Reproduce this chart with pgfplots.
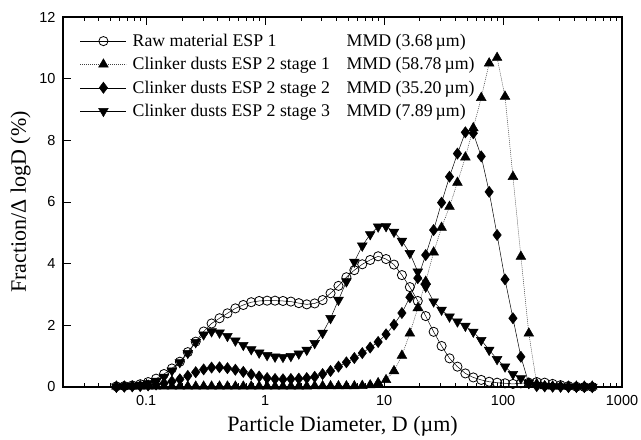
\documentclass[border=0pt]{standalone}
\usepackage{fontspec}
\setmainfont{Liberation Serif}
\newfontfamily\sansf{Liberation Sans}
\usepackage{pgfplots}
\pgfplotsset{compat=1.18}
\usepackage{pgfplotstable}

% particle size distributions, Fraction/dlogD (%)
\pgfplotstableread{
x raw s1 s2 s3
0.056234 0.02 0.02 0.00 0.01
0.065563 0.03 0.02 0.01 0.02
0.076443 0.05 0.02 0.02 0.04
0.089125 0.09 0.02 0.03 0.07
0.10391 0.16 0.02 0.05 0.12
0.12115 0.27 0.02 0.08 0.20
0.14125 0.42 0.02 0.12 0.33
0.16468 0.60 0.02 0.18 0.53
0.19201 0.82 0.02 0.25 0.80
0.22387 1.13 0.02 0.36 1.10
0.26102 1.47 0.02 0.48 1.45
0.30433 1.80 0.02 0.57 1.70
0.35481 2.06 0.02 0.63 1.80
0.41370 2.23 0.02 0.64 1.76
0.48234 2.39 0.02 0.61 1.65
0.56234 2.55 0.02 0.56 1.50
0.65563 2.66 0.02 0.49 1.36
0.76443 2.75 0.02 0.41 1.22
0.89125 2.79 0.02 0.34 1.11
1.0391 2.80 0.02 0.29 1.03
1.2115 2.80 0.02 0.26 0.98
1.4125 2.79 0.02 0.25 0.97
1.6468 2.77 0.02 0.26 1.00
1.9201 2.72 0.02 0.27 1.08
2.2387 2.68 0.02 0.29 1.20
2.6102 2.71 0.03 0.33 1.42
3.0433 2.82 0.03 0.42 1.75
3.5481 3.04 0.03 0.52 2.23
4.1370 3.28 0.03 0.66 2.82
4.8234 3.56 0.03 0.80 3.42
5.6234 3.79 0.03 0.94 4.06
6.5563 3.98 0.04 1.10 4.58
7.6443 4.12 0.06 1.28 4.95
8.9125 4.24 0.13 1.46 5.20
10.391 4.15 0.23 1.71 5.21
12.115 3.97 0.52 2.02 5.03
14.125 3.63 1.02 2.40 4.74
16.468 3.24 1.74 2.91 4.34
19.201 2.79 2.56 3.53 3.74
22.387 2.30 3.42 4.28 3.25
26.102 1.79 4.37 5.09 2.77
30.433 1.33 5.17 5.98 2.50
35.481 0.93 5.85 6.82 2.28
41.370 0.66 6.63 7.57 2.12
48.234 0.44 7.45 8.26 1.98
56.234 0.31 8.40 8.23 1.79
65.563 0.23 9.38 7.48 1.52
76.443 0.17 10.50 6.33 1.20
89.125 0.14 10.68 4.93 0.90
103.91 0.12 9.42 3.49 0.66
121.15 0.10 6.82 2.23 0.42
141.25 0.12 4.23 0.98 0.28
164.68 0.14 1.74 0.12 0.14
192.01 0.16 0.10 0.03 0.06
223.87 0.14 0.03 0.02 0.03
261.02 0.10 0.02 0.01 0.02
304.33 0.06 0.02 0.01 0.01
354.81 0.03 0.02 0.00 0.00
413.70 0.01 0.02 0.00 0.00
482.34 0.00 0.02 0.00 0.00
562.34 0.00 0.02 0.00 0.00
}\psd

\begin{document}
\begin{tikzpicture}
\begin{axis}[
    scale only axis, width=559bp, height=370bp,
    xmode=log, xmin=0.02, xmax=1000, ymin=0, ymax=12,
    xtick={0.1,1,10,100,1000}, xticklabels={0.1,1,10,100,1000},
    minor xtick={0.02,0.03,0.04,0.05,0.06,0.07,0.08,0.09,0.2,0.3,0.4,0.5,0.6,0.7,0.8,0.9,2,3,4,5,6,7,8,9,20,30,40,50,60,70,80,90,200,300,400,500,600,700,800,900},
    ytick={0,2,4,6,8,10,12}, yticklabels={0,2,4,6,8,10,12},
    tick align=inside, xtick pos=both, ytick pos=left,
    major tick length=8bp, minor tick length=4bp,
    every tick/.style={black, line width=0.8bp},
    axis line style={line width=1.2bp},
    ticklabel style={font=\sansf\fontsize{14.5bp}{16bp}\selectfont},
    xticklabel style={yshift=-5bp}, yticklabel style={xshift=-4bp},
    xlabel={Particle Diameter, D (µm)},
    ylabel={Fraction/Δ logD (\%)},
    label style={font=\fontsize{22bp}{26bp}\selectfont},
    xlabel style={yshift=-4bp},
    ylabel style={yshift=2bp},
    legend style={at={(0,1)}, anchor=north west, xshift=14bp, yshift=-13bp,
        draw=none, fill=none, font=\fontsize{17.8bp}{21bp}\selectfont,
        row sep=5.5bp, column sep=4bp},
    legend cell align=left,
    legend image code/.code={\draw[mark repeat=2, mark phase=2, #1] plot coordinates {(0bp,0bp) (23bp,0bp) (46bp,0bp)};},
]
\addplot[black, line width=0.5bp, mark=o, mark size=4.6bp, mark options={solid, fill=white, line width=0.8bp}]
    table[x=x, y=raw]{\psd};
\addlegendentry{\makebox[214bp][l]{Raw material ESP 1}MMD (3.68\,µm)}
\addplot[black!75, line width=0.5bp, dash pattern=on 1bp off 1bp, mark=triangle*, mark size=5.6bp, mark options={solid, fill=black, draw=black}]
    table[x=x, y=s1]{\psd};
\addlegendentry{\makebox[214bp][l]{Clinker dusts ESP 2 stage 1}MMD (58.78\,µm)}
\addplot[black, line width=0.5bp, mark=diamond*, mark size=5.6bp, mark options={solid, fill=black}]
    table[x=x, y=s2]{\psd};
\addlegendentry{\makebox[214bp][l]{Clinker dusts ESP 2 stage 2}MMD (35.20\,µm)}
\addplot[black, line width=0.5bp, mark=triangle*, mark size=5.6bp, mark options={solid, fill=black, rotate=180}]
    table[x=x, y=s3]{\psd};
\addlegendentry{\makebox[214bp][l]{Clinker dusts ESP 2 stage 3}MMD (7.89\,µm)}
\end{axis}
\pgfresetboundingbox
\path ([shift={(-63bp,-53bp)}]current axis.south west) rectangle ([shift={(19bp,17bp)}]current axis.north east);
\end{tikzpicture}
\end{document}
